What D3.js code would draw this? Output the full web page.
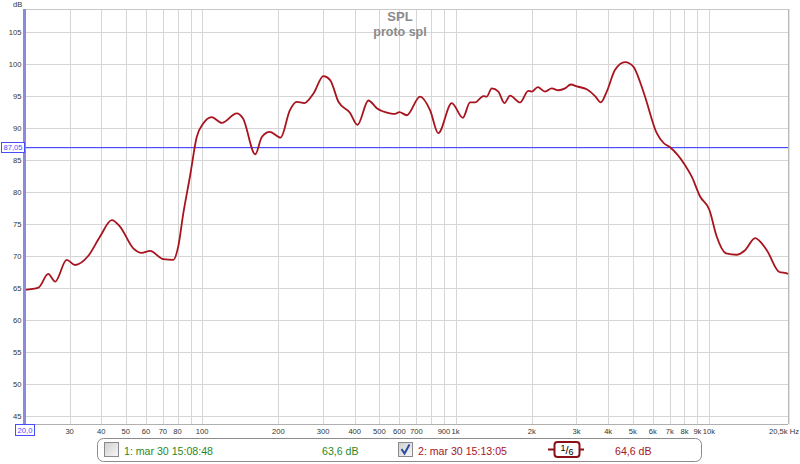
<!DOCTYPE html>
<html><head><meta charset="utf-8">
<script src="https://cdn.jsdelivr.net/npm/d3@7"></script>
<style>body{margin:0;background:#fff}svg{display:block}text{font-family:"Liberation Sans",Arial,sans-serif}</style>
</head><body><svg id="c" width="800" height="464"></svg>
<script>
// ---- data ----
const freqs = [20, 22.6, 24.7, 26.3, 29.2, 31.5, 35.5, 39.5, 44, 47.4, 53.5, 57.7, 62.3, 70.3, 76.9, 80.5, 84.3, 89.6, 95.2, 101, 109, 119.5, 137, 145, 162, 172, 185, 204, 222, 236, 253, 275, 301, 320, 345, 383, 410, 453, 489, 551, 577, 600, 642, 724, 793, 855, 966, 1068, 1141, 1194, 1287, 1327, 1389, 1475, 1558, 1641, 1797, 1937, 1998, 2110, 2254, 2396, 2544, 2704, 2848, 3008, 3294, 3551, 3742, 3950, 4260, 4666, 5030, 5346, 5594, 6222, 6607, 7022, 8048, 8551, 9222, 10038, 10735, 11682, 12876, 13880, 15200, 16906, 18954, 20274, 20500];
const spl = [64.7, 65.05, 67.2, 66.0, 69.4, 68.6, 70.0, 73.0, 75.6, 74.6, 71.2, 70.5, 70.8, 69.5, 69.4, 71.5, 76.7, 82.5, 88.6, 90.7, 91.7, 90.8, 92.3, 91.5, 85.9, 88.6, 89.4, 88.5, 92.8, 94.1, 93.9, 95.4, 98.1, 97.5, 94.1, 92.4, 90.5, 94.3, 93.1, 92.3, 92.2, 92.5, 92.0, 94.9, 92.8, 89.2, 93.9, 91.6, 94.0, 94.0, 95.0, 94.9, 96.2, 95.7, 93.9, 95.05, 94.0, 95.8, 95.7, 96.4, 95.7, 96.2, 95.9, 96.2, 96.8, 96.5, 96.05, 95.0, 94.0, 95.7, 99.1, 100.3, 99.6, 97.2, 94.9, 89.2, 87.7, 87.0, 84.2, 82.4, 79.3, 77.2, 73.0, 70.4, 70.2, 70.9, 72.8, 70.9, 67.5, 67.3, 67.2];
const xGridVals = [30,40,50,60,70,80,90,100,200,300,400,500,600,700,800,900,1000,2000,3000,4000,5000,6000,7000,8000,9000,10000];
const xTickVals = [30,40,50,60,70,80,100,200,300,400,500,600,700,900,1000,2000,3000,4000,5000,6000,7000,8000,9000,10000];
const xTickLabels = ["30","40","50","60","70","80","100","200","300","400","500","600","700","900","1k","2k","3k","4k","5k","6k","7k","8k","9k","10k"];
const yTickVals = [45,50,55,60,65,70,75,80,85,90,95,100,105];
const refLevel = 87.05;
const legendItems = [
  {label:"1: mar 30 15:08:48", value:"63,6 dB", checked:false, color:"#1f8a1f"},
  {label:"2: mar 30 15:13:05", value:"64,6 dB", checked:true, color:"#a8141e"}
];

// ---- layout ----
const L=25, R=788, T=9, B=424;
const x = d3.scaleLog().domain([20,20500]).range([L,R]);
const y = d3.scaleLinear().domain([43.75,108.6]).range([B,T]);
const svg = d3.select("#c");
const FS = 7.6;
const BLUE = "#4a4aff";

svg.append("rect").attr("x",L).attr("y",T).attr("width",R-L).attr("height",B-T).attr("fill","#fff");

// grid
const g = svg.append("g");
g.selectAll(".vg").data(xGridVals).join("line")
  .attr("x1",d=>Math.round(x(d))+0.5).attr("x2",d=>Math.round(x(d))+0.5)
  .attr("y1",T).attr("y2",B).attr("stroke","#d6d6d6").attr("stroke-width",1);
g.selectAll(".hg").data(yTickVals).join("line")
  .attr("y1",d=>Math.round(y(d))+0.5).attr("y2",d=>Math.round(y(d))+0.5)
  .attr("x1",L).attr("x2",R).attr("stroke","#d6d6d6").attr("stroke-width",1);

// border
svg.append("line").attr("x1",L).attr("x2",R).attr("y1",T+0.5).attr("y2",T+0.5).attr("stroke","#c8c8c8");
svg.append("line").attr("x1",R+0.5).attr("x2",R+0.5).attr("y1",T).attr("y2",B).attr("stroke","#b8b8b8").attr("stroke-width",1);
svg.append("line").attr("x1",R+1.5).attr("x2",R+1.5).attr("y1",T).attr("y2",B+1).attr("stroke","#e4e4e4").attr("stroke-width",1);
svg.append("line").attr("x1",L).attr("x2",R).attr("y1",B+0.5).attr("y2",B+0.5).attr("stroke","#b0b0b0").attr("stroke-width",1);

// title
svg.append("text").attr("x",400).attr("y",21).attr("text-anchor","middle").attr("font-size",13).attr("font-weight","bold").attr("fill","#8a8a8a").text("SPL");
svg.append("text").attr("x",400).attr("y",36).attr("text-anchor","middle").attr("font-size",12.5).attr("font-weight","bold").attr("fill","#8a8a8a").text("proto spl");

// reference line
const ry = Math.round(y(refLevel));
svg.append("rect").attr("x",L).attr("y",ry).attr("width",R-L).attr("height",1.2).attr("fill",BLUE);

// curve
const line = d3.line().x(d=>x(d[0])).y(d=>y(d[1])).curve(d3.curveMonotoneX);
svg.append("path").datum(freqs.map((f,i)=>[f,spl[i]])).attr("d",line)
  .attr("fill","none").attr("stroke","#a8141e").attr("stroke-width",1.8).attr("stroke-linejoin","round");

// left axis blue bar
svg.append("rect").attr("x",L-2).attr("y",T).attr("width",3).attr("height",B-T).attr("fill","#8a8ae0");

// y labels
svg.selectAll(".yl").data(yTickVals).join("text")
  .attr("x",21.5).attr("y",d=>y(d)+2.7).attr("text-anchor","end").attr("font-size",FS).attr("fill","#333")
  .text(d=>d);
svg.append("text").attr("x",13).attr("y",7).attr("font-size",FS).attr("fill","#333").text("dB");

// ref label box
svg.append("rect").attr("x",1.5).attr("y",ry-4.5).attr("width",23).attr("height",10).attr("fill","#fff").attr("stroke",BLUE);
svg.append("text").attr("x",13).attr("y",ry+3.3).attr("text-anchor","middle").attr("font-size",FS).attr("fill",BLUE).text("87,05");

// x labels
svg.selectAll(".xl").data(xTickVals).join("text")
  .attr("x",d=>x(d)).attr("y",433.5).attr("text-anchor","middle").attr("font-size",FS).attr("fill","#333")
  .text((d,i)=>xTickLabels[i]);
svg.append("rect").attr("x",15.5).attr("y",424.5).attr("width",19).attr("height",11).attr("fill","#fff").attr("stroke",BLUE);
svg.append("text").attr("x",25).attr("y",433).attr("text-anchor","middle").attr("font-size",FS).attr("fill",BLUE).text("20,0");
svg.append("text").attr("x",799).attr("y",433.5).attr("text-anchor","end").attr("font-size",FS).attr("fill","#333").text("20,5k Hz");

// legend
const lg = svg.append("g");
lg.append("rect").attr("x",97.5).attr("y",438.5).attr("width",604).attr("height",23).attr("rx",6).attr("fill","#fff").attr("stroke","#8c8c8c");
const defs = svg.append("defs");
const gr = defs.append("linearGradient").attr("id","cb").attr("x1",0).attr("y1",0).attr("x2",1).attr("y2",1);
gr.append("stop").attr("offset","0%").attr("stop-color","#cfcfcf");
gr.append("stop").attr("offset","100%").attr("stop-color","#f8f8f8");
const cbX = [104, 398], txX=[124,418], valX=[322,615];
legendItems.forEach((it,i)=>{
  lg.append("rect").attr("x",cbX[i]+0.5).attr("y",442.5).attr("width",14).attr("height",14).attr("fill","url(#cb)").attr("stroke","#8a8a8a");
  if(it.checked){
    lg.append("path").attr("d",`M${cbX[i]+3.5},449 L${cbX[i]+6.5},453.5 L${cbX[i]+11.5},444.5`).attr("fill","none").attr("stroke","#2b4c9b").attr("stroke-width",2);
  }
  lg.append("text").attr("x",txX[i]).attr("y",454.5).attr("font-size",10.6).attr("fill",it.color).text(it.label);
  lg.append("text").attr("x",valX[i]).attr("y",454.5).attr("font-size",10.6).attr("fill",it.color).text(it.value);
});
// smoothing icon
lg.append("line").attr("x1",548).attr("x2",584).attr("y1",449.5).attr("y2",449.5).attr("stroke","#8a1018").attr("stroke-width",2);
lg.append("rect").attr("x",554.5).attr("y",442).attr("width",25).attr("height",15).attr("rx",3).attr("fill","#fff").attr("stroke","#8a1018").attr("stroke-width",2);
const st = lg.append("text").attr("x",567).attr("y",454).attr("text-anchor","middle").attr("font-size",11).attr("fill","#000");
st.append("tspan").attr("font-size",9).attr("dy",-3).text("1");
st.append("tspan").attr("dy",3).text("/");
st.append("tspan").attr("font-size",9).attr("dy",1).text("6");
</script></body></html>
